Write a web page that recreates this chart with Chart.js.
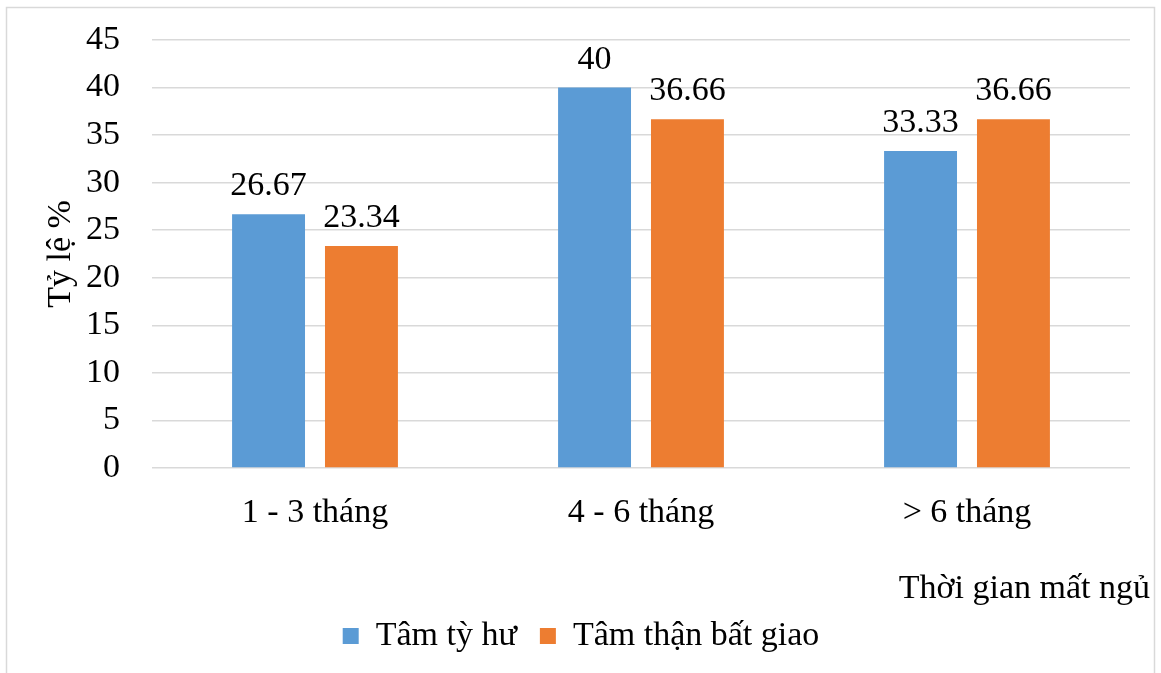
<!DOCTYPE html>
<html lang="vi">
<head>
<meta charset="utf-8">
<title>Thời gian mất ngủ</title>
<script src="https://cdn.jsdelivr.net/npm/chart.js@4.4.1/dist/chart.umd.min.js"></script>
<style>
  html, body { margin: 0; padding: 0; background: #ffffff; }
  #wrap { width: 1161px; height: 673px; }
  canvas { display: block; }
</style>
</head>
<body>
<div id="wrap"><canvas id="chart" width="1161" height="673"></canvas></div>
<script>
// Categories and series values
const categories = ['1 - 3 tháng', '4 - 6 tháng', '> 6 tháng'];
const seriesNames = ['Tâm tỳ hư', 'Tâm thận bất giao'];
const tamTyHu = [26.67, 40, 33.33];
const tamThanBatGiao = [23.34, 36.66, 36.66];
const yTicks = [0, 5, 10, 15, 20, 25, 30, 35, 40, 45];
const yTitle = 'Tỷ lệ %';
const xTitle = 'Thời gian mất ngủ';

const FONT = '"Liberation Serif", "Times New Roman", "DejaVu Serif", serif';
const SIZE = 34;
const BLUE = '#5B9BD5';
const ORANGE = '#ED7D31';
const GRID = '#d9d9d9';

Chart.defaults.font.family = FONT;
Chart.defaults.font.size = SIZE;
Chart.defaults.color = '#000000';

// Light frame around the whole chart
const framePlugin = {
  id: 'frame',
  beforeDraw(chart) {
    const ctx = chart.ctx;
    ctx.save();
    ctx.fillStyle = '#ffffff';
    ctx.fillRect(0, 0, chart.width, chart.height);
    ctx.strokeStyle = GRID;
    ctx.lineWidth = 1.5;
    ctx.strokeRect(6.5, 7.5, chart.width - 13, chart.height + 20);
    ctx.restore();
  }
};

// Value labels above each bar
const valueLabels = {
  id: 'valueLabels',
  afterDatasetsDraw(chart) {
    const ctx = chart.ctx;
    ctx.save();
    ctx.font = SIZE + 'px ' + FONT;
    ctx.fillStyle = '#000000';
    ctx.textAlign = 'center';
    ctx.textBaseline = 'alphabetic';
    chart.data.datasets.forEach((ds, i) => {
      const meta = chart.getDatasetMeta(i);
      meta.data.forEach((bar, j) => {
        ctx.fillText(String(ds.data[j]), bar.x, bar.y - 19);
      });
    });
    ctx.restore();
  }
};

// Horizontal axis title, right-aligned under the plot
const xTitlePlugin = {
  id: 'xTitleRight',
  afterDraw(chart) {
    const ctx = chart.ctx;
    ctx.save();
    ctx.font = SIZE + 'px ' + FONT;
    ctx.fillStyle = '#000000';
    ctx.textAlign = 'right';
    ctx.textBaseline = 'alphabetic';
    ctx.fillText(xTitle, chart.chartArea.right + 20, 598);
    ctx.restore();
  }
};

new Chart(document.getElementById('chart'), {
  type: 'bar',
  data: {
    labels: categories,
    datasets: [
      { label: seriesNames[0], data: tamTyHu, backgroundColor: BLUE, borderWidth: 0 },
      { label: seriesNames[1], data: tamThanBatGiao, backgroundColor: ORANGE, borderWidth: 0 }
    ]
  },
  options: {
    responsive: false,
    animation: false,
    devicePixelRatio: 1,
    layout: { padding: { top: 40, left: 32, right: 31, bottom: 10 } },
    datasets: {
      bar: { categoryPercentage: 0.57, barPercentage: 0.785 }
    },
    scales: {
      x: {
        grid: { display: false },
        border: { display: false },
        ticks: { padding: 17, maxRotation: 0 },
        afterFit(scale) { scale.height = 128; }
      },
      y: {
        min: 0,
        max: 45,
        afterBuildTicks(scale) { scale.ticks = yTicks.map(v => ({ value: v })); },
        grid: { color: GRID, lineWidth: 1.5, drawTicks: true, tickLength: 29, tickColor: 'rgba(0,0,0,0)' },
        border: { display: false },
        ticks: { padding: 3 },
        title: {
          display: true,
          text: yTitle,
          font: { size: SIZE, lineHeight: 1 },
          padding: { top: 12, bottom: 0 }
        },
        afterFit(scale) { scale.width = 120; }
      }
    },
    plugins: {
      legend: {
        position: 'bottom',
        labels: { boxWidth: 16, boxHeight: 16, padding: 23 }
      },
      tooltip: { enabled: false }
    }
  },
  plugins: [framePlugin, valueLabels, xTitlePlugin]
});
</script>
</body>
</html>
